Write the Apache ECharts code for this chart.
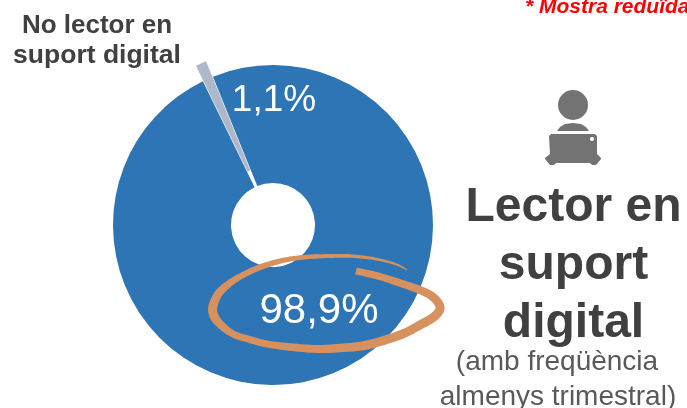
<!DOCTYPE html>
<html><head><meta charset="utf-8">
<style>html,body{margin:0;padding:0;background:#fff}#c{width:687px;height:408px}</style>
<script src="https://cdn.jsdelivr.net/npm/echarts@6/dist/echarts.min.js"></script>
</head><body><div id="c"></div>
<script>
const categories = ['No lector en suport digital', 'Lector en suport digital'];
const values = [1.1, 98.9];
const colors = ['#ADB9CA', '#2E75B6'];

// hand-drawn circle: [x, y, width] along the pen stroke
const stroke = [[356,271,7],[378,276,7],[400,283,7.5],[420,290,8],[433,297,8.5],[440,307,9],[435,316,9],[420,325,9],[400,335,9],[367,345,9],[340,348,8.5],[317,349,8],[290,347,7.5],[267,344,7],[248,339,7],[233,334,7],[221,325,8],[214,316,9],[213,306,9],[219,293,8],[230,283,7],[243,275,6],[258,268,6],[273,263,5.5],[290,259,5],[307,257,4.5],[330,256,4],[350,256,3.5],[370,258,3],[385,261,2.5],[398,265,2],[407,270,1]];

function brush(p) {
  const pts = [];
  const g = i => p[Math.max(0, Math.min(p.length - 1, i))];
  for (let i = 0; i < p.length - 1; i++) {
    const a = g(i - 1), b = g(i), c = g(i + 1), d = g(i + 2);
    for (let k = 0; k < 8; k++) {
      const t = k / 8, t2 = t * t, t3 = t2 * t;
      const f = j => 0.5 * (2 * b[j] + (c[j] - a[j]) * t + (2 * a[j] - 5 * b[j] + 4 * c[j] - d[j]) * t2 + (3 * b[j] - a[j] - 3 * c[j] + d[j]) * t3);
      pts.push([f(0), f(1), f(2)]);
    }
  }
  pts.push(p[p.length - 1]);
  const L = [], R = [];
  pts.forEach((q, i) => {
    const a = pts[Math.max(0, i - 1)], b = pts[Math.min(pts.length - 1, i + 1)];
    const dx = b[0] - a[0], dy = b[1] - a[1], n = Math.hypot(dx, dy) || 1;
    L.push([q[0] - dy / n * q[2] / 2, q[1] + dx / n * q[2] / 2]);
    R.push([q[0] + dy / n * q[2] / 2, q[1] - dx / n * q[2] / 2]);
  });
  return L.concat(R.reverse());
}

const iconGrey = '#737373';
const textDark = '#404040';
const textSoft = '#595959';
const sans = '"Liberation Sans", Arial, sans-serif';
const pct = v => String(v).replace('.', ',') + '%';
const txt = (x, y, text, size, weight, fill) => ({
  type: 'text', x, y, z: 20,
  style: { text, font: weight + ' ' + size + 'px ' + sans, fill, align: 'center', verticalAlign: 'middle' }
});

const chart = echarts.init(document.getElementById('c'), null, { renderer: 'canvas' });
chart.setOption({
  animation: false,
  backgroundColor: '#fff',
  series: [{
    type: 'pie',
    center: [273, 225],
    radius: [42, 160],
    startAngle: 116,
    clockwise: true,
    selectedMode: 'single',
    selectedOffset: 17,
    silent: true,
    z: 2,
    data: categories.map((name, i) => ({ name, value: values[i], selected: i === 0, itemStyle: { color: colors[i] } })),
    label: { show: false },
    labelLine: { show: false }
  }],
  graphic: [
    { type: 'polygon', z: 10, shape: { points: brush(stroke) }, style: { fill: '#D6915F' } },
    txt(274, 101, pct(values[0]), 37, 'normal', '#fff'),
    txt(319, 311, pct(values[1]), 42, 'normal', '#fff'),
    txt(97, 26, 'No lector en', 26, 'bold', textDark),
    txt(97, 56, 'suport digital', 26.5, 'bold', textDark),
    txt(573.5, 208, 'Lector en', 48, 'bold', textDark),
    txt(573.5, 266, 'suport', 48, 'bold', textDark),
    txt(573.5, 324, 'digital', 48, 'bold', textDark),
    txt(557, 362, '(amb freqüència', 28, 'normal', textSoft),
    txt(558, 397, 'almenys trimestral)', 28, 'normal', textSoft),
    { type: 'text', x: 525, y: 7, z: 20, style: { text: '* Mostra reduïda', font: 'italic bold 21px ' + sans, fill: '#FF0000', align: 'left', verticalAlign: 'middle' } },
    { type: 'circle', z: 10, shape: { cx: 573, cy: 105, r: 15 }, style: { fill: iconGrey } },
    { type: 'polygon', z: 10, shape: { points: [[557,131],[560,127],[565,124],[573,123],[581,124],[586,127],[589,131]] }, style: { fill: iconGrey } },
    { type: 'polygon', z: 10, shape: { points: [[551,134],[595,134],[597,136],[597,154],[601,158],[601,159],[596,165],[592,165],[590,163],[556,163],[554,165],[550,165],[545,159],[545,158],[550,154],[549,136]] }, style: { fill: iconGrey } },
    { type: 'circle', z: 11, shape: { cx: 592, cy: 139, r: 2 }, style: { fill: '#fff' } }
  ]
});
</script></body></html>
